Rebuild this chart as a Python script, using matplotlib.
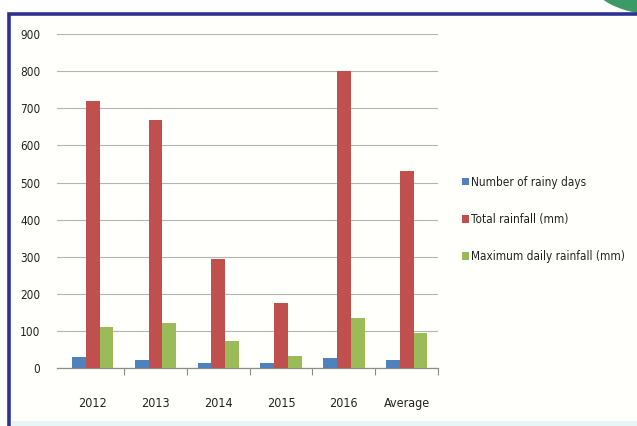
import matplotlib
matplotlib.use("Agg")
import matplotlib.pyplot as plt
from matplotlib.patches import Rectangle, Ellipse
import numpy as np

plt.rcParams['font.family'] = ['DejaVu Sans']
plt.rcParams['font.stretch'] = 'condensed'

categories = ['2012', '2013', '2014', '2015', '2016', 'Average']
rainy_days = [30, 22, 15, 15, 29, 22]
total_rainfall = [720, 668, 295, 175, 800, 532]
max_daily_rainfall = [112, 123, 73, 32, 135, 95]

series_names = ['Number of rainy days', 'Total rainfall (mm)', 'Maximum daily rainfall (mm)']
colors = ['#4F81BD', '#C0504D', '#9BBB59']
yticks = [0, 100, 200, 300, 400, 500, 600, 700, 800, 900]

fig = plt.figure(figsize=(6.37, 4.26), dpi=100)
fig.patch.set_facecolor('white')

# frame and decorations around the chart
fig.add_artist(Ellipse((1.06, 1.04), 0.26, 0.16, transform=fig.transFigure,
                       facecolor='#3C9A64', edgecolor='none', zorder=-1))
fig.add_artist(Rectangle((0.0145, -0.05), 1.0, 1.017, transform=fig.transFigure,
                         facecolor='#FFFFFB', edgecolor='#2E3192', linewidth=2.6, zorder=0))
fig.add_artist(Rectangle((0.019, 0.0), 1.0, 0.011, transform=fig.transFigure,
                         facecolor='#E6F6F4', edgecolor='none', zorder=0.5))

ax = fig.add_axes([57 / 637, 1 - 368.3 / 426, (438 - 57) / 637, (368.3 - 34) / 426])
ax.set_zorder(2)
ax.set_facecolor('none')

x = np.arange(len(categories))
w = 0.22
for i, (vals, name, c) in enumerate(zip([rainy_days, total_rainfall, max_daily_rainfall], series_names, colors)):
    ax.bar(x + (i - 1) * w, vals, width=w, color=c, label=name, zorder=3)

ax.set_xlim(-0.57, len(categories) - 0.5)
ax.set_ylim(0, 900)
ax.set_yticks(yticks)
ax.yaxis.grid(True, color='#B4B4B4', linewidth=0.8)
ax.set_axisbelow(True)

for s in ['top', 'right', 'left']:
    ax.spines[s].set_visible(False)
ax.spines['bottom'].set_color('#8C8C8C')
ax.spines['bottom'].set_linewidth(0.9)

ax.set_xticks(x)
ax.set_xticklabels(categories)
ax.set_xticks(np.arange(0.5, len(categories)), minor=True)
ax.tick_params(axis='x', which='major', length=0, pad=21, labelsize=9, colors='#222222')
ax.tick_params(axis='x', which='minor', length=5, width=0.8, color='#8C8C8C', direction='out')
ax.tick_params(axis='y', length=0, pad=12, labelsize=8.5, colors='#222222')

leg = ax.legend(loc='center left', bbox_to_anchor=(1.035, 0.445), frameon=False,
                fontsize=8.5, handlelength=0.6, handleheight=0.6, handletextpad=0.2,
                labelspacing=2.05)
for t in leg.get_texts():
    t.set_color('#222222')

fig.savefig('out.png', dpi=100)
